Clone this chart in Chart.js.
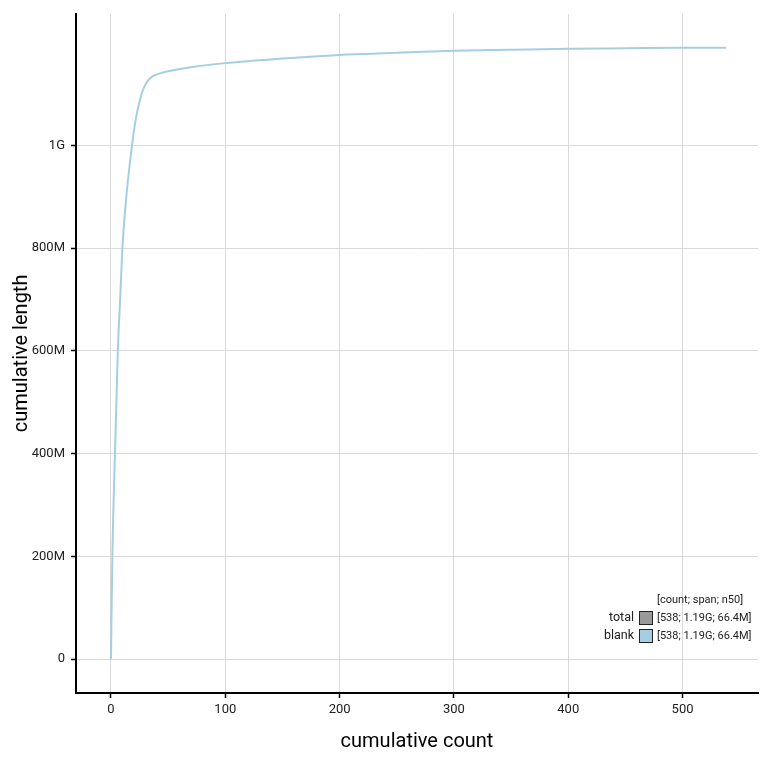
<!DOCTYPE html>
<html>
<head>
<meta charset="utf-8">
<script src="https://cdn.jsdelivr.net/npm/chart.js@4/dist/chart.umd.min.js"></script>
<style>
  html, body { margin: 0; padding: 0; background: #fff; }
  #wrap { width: 771px; height: 758px; }
</style>
</head>
<body>
<div id="wrap"><canvas id="chart" width="771" height="758"></canvas></div>
<script>
// DATA
// -----------------------------------------------------------------------------
var counts  = [0, 1.2, 3.5, 5, 6, 8, 10, 13, 18.4, 22, 25, 28, 31, 34, 38, 43, 52, 70, 100, 150, 200, 250, 300, 350, 400, 450, 500, 538];
var lengths = [0, 0.2e9, 0.4e9, 0.52e9, 0.6e9, 0.7e9, 0.8e9, 0.89e9, 1.0e9, 1.055e9, 1.085e9, 1.108e9, 1.122e9, 1.13e9, 1.136e9, 1.14e9, 1.145e9, 1.152e9, 1.16e9, 1.169e9, 1.176e9, 1.18e9, 1.184e9, 1.186e9, 1.188e9, 1.189e9, 1.19e9, 1.19e9];

var xTicks = [0, 100, 200, 300, 400, 500];
var yTicks = [0, 200e6, 400e6, 600e6, 800e6, 1e9];
var yTickLabels = ['0', '200M', '400M', '600M', '800M', '1G'];

var legendHeader = '[count; span; n50]';
var legendNames  = ['total', 'blank'];
var legendStats  = ['[538; 1.19G; 66.4M]', '[538; 1.19G; 66.4M]'];
var legendFills  = ['#999999', '#a6cee3'];

// CHART
// -----------------------------------------------------------------------------
var FONT = 'Roboto, "Noto Sans", sans-serif';

var points = counts.map(function(c, i) { return { x: c, y: lengths[i] }; });

var legendPlugin = {
    id: 'boxLegend',
    afterDraw: function(chart) {
        var ctx = chart.ctx;
        ctx.save();
        ctx.font = '11px ' + FONT;
        ctx.fillStyle = '#222';
        ctx.textBaseline = 'middle';
        ctx.textAlign = 'left';
        ctx.fillText(legendHeader, 657, 600);
        legendNames.forEach(function(name, i) {
            var y = 618 + i * 18;
            ctx.font = '12.5px ' + FONT;
            ctx.textAlign = 'right';
            ctx.fillStyle = '#222';
            ctx.fillText(name, 634, y);
            ctx.fillStyle = legendFills[i];
            ctx.fillRect(639.5, y - 6.5, 13, 13);
            ctx.strokeStyle = '#222';
            ctx.lineWidth = 1;
            ctx.strokeRect(639.5, y - 6.5, 13, 13);
            ctx.font = '11px ' + FONT;
            ctx.textAlign = 'left';
            ctx.fillStyle = '#222';
            ctx.fillText(legendStats[i], 657, y);
        });
        ctx.restore();
    }
};

var chart = new Chart(document.getElementById('chart'), {
    type: 'line',
    data: {
        datasets: [{
            data: points,
            borderColor: '#a6cee3',
            borderWidth: 2,
            pointRadius: 0,
            fill: false,
            cubicInterpolationMode: 'monotone'
        }]
    },
    options: {
        responsive: false,
        devicePixelRatio: 1,
        animation: false,
        layout: { padding: { top: 12, right: 13, left: 0, bottom: 0 } },
        plugins: { legend: { display: false }, tooltip: { enabled: false } },
        scales: {
            x: {
                type: 'linear',
                min: -30.6,
                max: 566,
                afterBuildTicks: function(scale) {
                    scale.ticks = xTicks.map(function(v) { return { value: v }; });
                },
                afterFit: function(scale) { scale.height = 65; },
                border: { display: true, color: '#000', width: 2 },
                grid: { color: '#d9d9d9', lineWidth: 1, tickColor: '#000', tickWidth: 1.5, tickLength: 5 },
                ticks: { color: '#222', font: { family: FONT, size: 13 }, padding: 4, maxRotation: 0 },
                title: { display: true, text: 'cumulative count', color: '#000', font: { family: FONT, size: 20 }, padding: { top: 0, bottom: 4 } }
            },
            y: {
                type: 'linear',
                min: -66e6,
                max: 1.256e9,
                afterBuildTicks: function(scale) {
                    scale.ticks = yTicks.map(function(v) { return { value: v }; });
                },
                afterFit: function(scale) { scale.width = 76; },
                border: { display: true, color: '#000', width: 2 },
                grid: { color: '#d9d9d9', lineWidth: 1, tickColor: '#000', tickWidth: 1.5, tickLength: 5 },
                ticks: {
                    color: '#222',
                    font: { family: FONT, size: 13 },
                    padding: 6,
                    callback: function(v) {
                        var i = yTicks.indexOf(v);
                        return i >= 0 ? yTickLabels[i] : '';
                    }
                },
                title: { display: true, text: 'cumulative length', color: '#000', font: { family: FONT, size: 20 }, padding: { top: 10, bottom: 0 } }
            }
        }
    },
    plugins: [legendPlugin]
});
</script>
</body>
</html>
